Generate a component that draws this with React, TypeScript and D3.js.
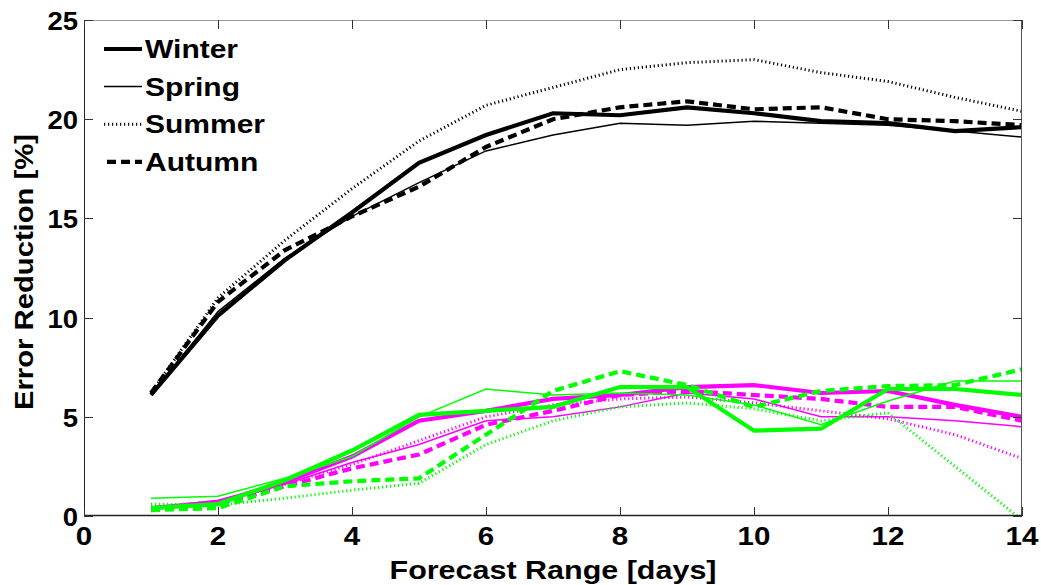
import React from "react";
import * as d3 from "d3";

const days = [1, 2, 3, 4, 5, 6, 7, 8, 9, 10, 11, 12, 13, 14];
const xTicks = [0, 2, 4, 6, 8, 10, 12, 14];
const yTicks = [0, 5, 10, 15, 20, 25];
const seasons = ["Winter", "Spring", "Summer", "Autumn"];

const blackWinter = [6.1, 10.1, 12.9, 15.3, 17.8, 19.2, 20.3, 20.2, 20.6, 20.3, 19.9, 19.8, 19.4, 19.6];
const blackSpring = [6.1, 10.3, 13.0, 15.1, 16.8, 18.4, 19.2, 19.8, 19.7, 19.9, 19.8, 19.7, 19.4, 19.1];
const blackSummer = [6.2, 11.0, 13.9, 16.5, 18.9, 20.7, 21.6, 22.5, 22.85, 23.0, 22.35, 21.9, 21.1, 20.4];
const blackAutumn = [6.2, 10.8, 13.4, 15.1, 16.6, 18.6, 20.0, 20.6, 20.9, 20.5, 20.6, 20.0, 19.9, 19.7];

const magentaWinter = [0.4, 0.7, 1.7, 3.0, 4.8, 5.3, 5.9, 6.1, 6.5, 6.6, 6.2, 6.3, 5.6, 5.0];
const magentaSpring = [0.4, 0.8, 1.6, 2.7, 3.6, 4.8, 5.0, 5.5, 6.2, 5.9, 5.0, 5.0, 4.8, 4.5];
const magentaSummer = [0.5, 0.7, 1.6, 2.6, 3.8, 5.0, 5.6, 5.9, 6.0, 5.7, 5.3, 4.9, 4.1, 2.9];
const magentaAutumn = [0.3, 0.6, 1.5, 2.4, 3.1, 4.6, 5.3, 6.1, 6.3, 6.1, 5.9, 5.5, 5.5, 4.8];

const greenWinter = [0.4, 0.6, 1.8, 3.3, 5.1, 5.3, 5.5, 6.5, 6.5, 4.3, 4.4, 6.4, 6.4, 6.1];
const greenSpring = [0.9, 1.0, 1.9, 3.0, 5.0, 6.4, 6.1, 6.2, 6.1, 5.6, 4.6, 5.8, 6.8, 6.8];
const greenSummer = [0.6, 0.55, 0.9, 1.3, 1.65, 3.6, 4.8, 5.5, 5.7, 5.4, 4.8, 5.2, 2.5, -0.2];
const greenAutumn = [0.3, 0.4, 1.5, 1.75, 1.9, 4.1, 6.3, 7.3, 6.6, 5.5, 6.3, 6.55, 6.6, 7.4];

const styles: Record<string, { w: number; dash?: string }> = {
  Winter: { w: 4.2 },
  Spring: { w: 1.5 },
  Summer: { w: 3, dash: "1.2 2.8" },
  Autumn: { w: 4.2, dash: "9 5" },
};

const groups = [
  { color: "#000000", series: [blackWinter, blackSpring, blackSummer, blackAutumn] },
  { color: "#ff00ff", series: [magentaWinter, magentaSpring, magentaSummer, magentaAutumn] },
  { color: "#00ff00", series: [greenWinter, greenSpring, greenSummer, greenAutumn] },
];

const L = 84, R = 1022, T = 20, B = 516;
const font = "'Liberation Sans', Arial, sans-serif";

function T2({ x, y, sx, anchor, size, rotate, children }: any) {
  return (
    <text
      transform={`translate(${x},${y})${rotate ? ` rotate(${rotate})` : ""} scale(${sx},1)`}
      textAnchor={anchor || "start"}
      fontFamily={font}
      fontWeight="bold"
      fontSize={size}
      fill="#000"
    >
      {children}
    </text>
  );
}

export default function App() {
  const x = d3.scaleLinear().domain([0, 14]).range([L, R]);
  const y = d3.scaleLinear().domain([0, 25]).range([B, T]);
  const line = d3
    .line<number>()
    .x((_, i) => x(days[i]))
    .y((d) => y(d));

  return (
    <svg width={1041} height={585} style={{ position: "absolute", left: 0, top: 0, background: "#fff" }}>
      <defs>
        <clipPath id="plot">
          <rect x={L} y={T} width={R - L} height={B - T} />
        </clipPath>
      </defs>
      <rect x={0} y={0} width={1041} height={585} fill="#fff" />
      <g clipPath="url(#plot)">
        {groups.map((g, gi) =>
          g.series.map((s, si) => {
            const st = styles[seasons[si]];
            return (
              <path
                key={`${gi}-${si}`}
                d={line(s) || ""}
                fill="none"
                stroke={g.color}
                strokeWidth={st.w}
                strokeDasharray={st.dash}
                strokeLinejoin="miter"
              />
            );
          })
        )}
      </g>
      {/* box */}
      <line x1={L} x2={R} y1={T + 0.5} y2={T + 0.5} stroke="#999" strokeWidth={1} />
      <line x1={R - 0.5} x2={R - 0.5} y1={T} y2={B} stroke="#555" strokeWidth={1} />
      <line x1={L + 0.5} x2={L + 0.5} y1={T} y2={B} stroke="#222" strokeWidth={1} />
      <line x1={L} x2={R} y1={B - 0.5} y2={B - 0.5} stroke="#222" strokeWidth={1.5} />
      {/* ticks */}
      {xTicks.map((t) => (
        <g key={`xt${t}`}>
          <line x1={Math.round(x(t)) + 0.5} x2={Math.round(x(t)) + 0.5} y1={B} y2={B - 9} stroke="#333" />
          <line x1={Math.round(x(t)) + 0.5} x2={Math.round(x(t)) + 0.5} y1={T} y2={T + 9} stroke="#333" />
          <T2 x={x(t)} y={545} sx={1.18} anchor="middle" size={25}>
            {t}
          </T2>
        </g>
      ))}
      {yTicks.map((t) => (
        <g key={`yt${t}`}>
          <line x1={L} x2={L + 9} y1={Math.round(y(t)) + 0.5} y2={Math.round(y(t)) + 0.5} stroke="#333" />
          <line x1={R} x2={R - 9} y1={Math.round(y(t)) + 0.5} y2={Math.round(y(t)) + 0.5} stroke="#333" />
          <T2 x={78} y={y(t) + 10} sx={1.1} anchor="end" size={25}>
            {t}
          </T2>
        </g>
      ))}
      {/* axis labels */}
      <T2 x={553} y={579} sx={1.22} anchor="middle" size={25}>
        Forecast Range [days]
      </T2>
      <T2 x={33} y={272} sx={1.17} anchor="middle" size={25} rotate={-90}>
        Error Reduction [%]
      </T2>
      {/* legend */}
      {seasons.map((s, i) => {
        const st = styles[s];
        const cy = 49 + i * 37.6;
        return (
          <g key={s}>
            <line
              x1={s === "Autumn" ? 107 : 104}
              x2={142}
              y1={cy}
              y2={cy}
              stroke="#000"
              strokeWidth={st.w}
              strokeDasharray={st.dash}
            />
            <T2 x={145} y={cy + 9} sx={1.2} size={25}>
              {s}
            </T2>
          </g>
        );
      })}
    </svg>
  );
}
